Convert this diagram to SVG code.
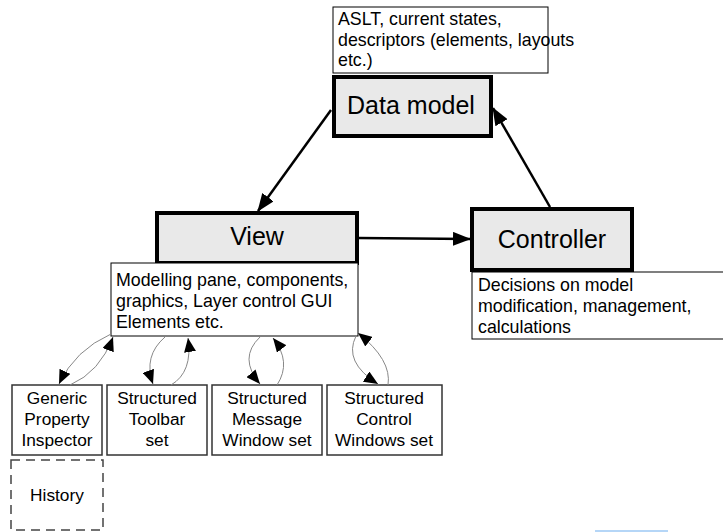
<svg xmlns="http://www.w3.org/2000/svg" width="723" height="532" viewBox="0 0 723 532">
<style>
text{font-family:"Liberation Sans",Arial,sans-serif;fill:#000}
.main{fill:#e9e9e9;stroke:#000;stroke-width:4}
.note{fill:#fff;stroke:#000;stroke-width:1}
.sub{fill:#fff;stroke:#333;stroke-width:1.5}
.hist{fill:#fff;stroke:#444;stroke-width:1.5;stroke-dasharray:9,6}
.big{font-size:25px;text-anchor:middle}
.ntxt{font-size:17.8px}
.stxt{font-size:17.3px;text-anchor:middle}
.conn{fill:none;stroke:#000;stroke-width:2.5}
.curve{fill:none;stroke:#888;stroke-width:1}
</style>
<defs>
<marker id="ah" markerUnits="userSpaceOnUse" markerWidth="18" markerHeight="14" refX="17" refY="7" orient="auto"><path d="M0,0 L18,7 L0,14 Z" fill="#000"/></marker>
<marker id="as" markerUnits="userSpaceOnUse" markerWidth="14" markerHeight="12" refX="14" refY="6" orient="auto"><path d="M0,0 L14,6 L0,12 Z" fill="#000"/></marker>
</defs>
<g id="datamodel-note"><rect class="note" x="333" y="7" width="215" height="66"/>
<text class="ntxt" x="338" y="25">ASLT, current states,</text>
<text class="ntxt" x="338" y="46">descriptors (elements, layouts</text>
<text class="ntxt" x="338" y="66">etc.)</text></g>
<g id="datamodel"><rect class="main" x="334" y="77" width="157" height="59"/><text class="big" x="411" y="114">Data model</text></g>
<g id="view"><rect class="main" x="157" y="213" width="200" height="50"/><text class="big" x="257" y="245">View</text></g>
<g id="view-note"><rect class="note" x="111" y="263" width="247" height="73"/>
<text class="ntxt" x="116" y="286">Modelling pane, components,</text>
<text class="ntxt" x="116" y="307">graphics, Layer control GUI</text>
<text class="ntxt" x="116" y="328">Elements etc.</text></g>
<g id="controller"><rect class="main" x="472" y="209" width="160" height="61"/><text class="big" x="552" y="248">Controller</text></g>
<g id="controller-note"><rect class="note" x="472" y="272" width="270" height="67"/>
<text class="ntxt" x="478" y="291">Decisions on model</text>
<text class="ntxt" x="478" y="312">modification, management,</text>
<text class="ntxt" x="478" y="333">calculations</text></g>
<g id="gpi"><rect class="sub" x="12" y="385" width="90" height="70"/>
<text class="stxt" x="57" y="404">Generic</text><text class="stxt" x="57" y="425">Property</text><text class="stxt" x="57" y="446">Inspector</text></g>
<g id="toolbar"><rect class="sub" x="107" y="385" width="100" height="70"/>
<text class="stxt" x="157" y="404">Structured</text><text class="stxt" x="157" y="425">Toolbar</text><text class="stxt" x="157" y="446">set</text></g>
<g id="message"><rect class="sub" x="212" y="385" width="110" height="70"/>
<text class="stxt" x="267" y="404">Structured</text><text class="stxt" x="267" y="425">Message</text><text class="stxt" x="267" y="446">Window set</text></g>
<g id="control"><rect class="sub" x="327" y="385" width="115" height="70"/>
<text class="stxt" x="384" y="404">Structured</text><text class="stxt" x="384" y="425">Control</text><text class="stxt" x="384" y="446">Windows set</text></g>
<g id="history"><rect class="hist" x="11" y="460" width="92" height="70"/><text class="stxt" x="57" y="501">History</text></g>
<g id="connectors">
<line class="conn" x1="331" y1="110" x2="258" y2="211" marker-end="url(#ah)"/>
<line class="conn" x1="550" y1="207" x2="493" y2="108" marker-end="url(#ah)"/>
<line class="conn" x1="358" y1="238" x2="470" y2="239" marker-end="url(#ah)"/>
<path class="curve" d="M111,334 Q75,350 59,384" marker-end="url(#as)"/>
<path class="curve" d="M70,385 Q100,372 113,337" marker-end="url(#as)"/>
<path class="curve" d="M165,337 Q143,356 153,384" marker-end="url(#as)"/>
<path class="curve" d="M171,385 Q193,372 188,338" marker-end="url(#as)"/>
<path class="curve" d="M260,337 Q238,358 260,384" marker-end="url(#as)"/>
<path class="curve" d="M277,385 Q292,362 273,338" marker-end="url(#as)"/>
<path class="curve" d="M356,336 Q343,362 378,384" marker-end="url(#as)"/>
<path class="curve" d="M388,385 Q392,360 358,333" marker-end="url(#as)"/>
</g>
<line x1="595" y1="531" x2="668" y2="531" stroke="#9cc9f5" stroke-width="1.5"/>
</svg>
